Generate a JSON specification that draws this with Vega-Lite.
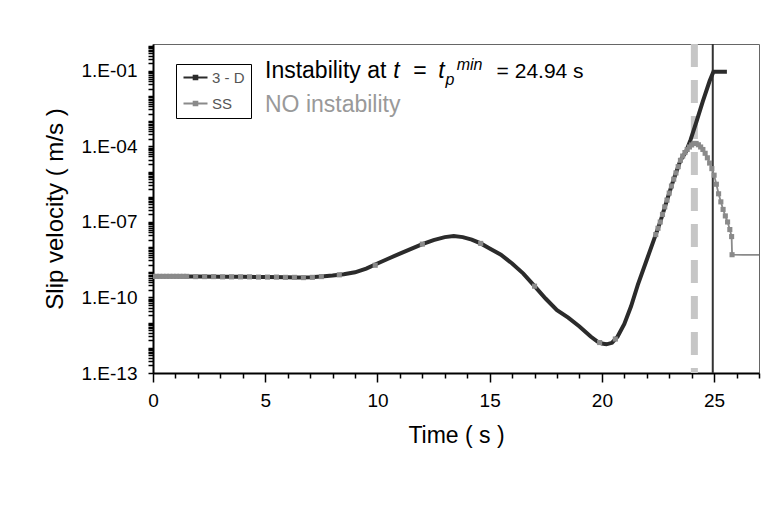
{
  "$schema": "https://vega.github.io/schema/vega-lite/v6.json",
  "autosize": {"type": "none"},
  "padding": {"left": 153, "top": 44, "right": 10, "bottom": 132},
  "width": 606,
  "height": 329,
  "background": "#ffffff",
  "config": {
    "font": "Liberation Sans",
    "view": {"stroke": "#666666", "strokeWidth": 1},
    "axis": {"grid": false, "domainColor": "#000000", "domainWidth": 2, "tickColor": "#000000", "tickWidth": 1.5, "labelColor": "#000000", "titleColor": "#000000", "labelFont": "Liberation Sans", "titleFont": "Liberation Sans", "titleFontWeight": "normal"}
  },
  "data": {"values": [
    {"series": "3 - D", "time": 0, "velocity": 6.92e-10},
    {"series": "3 - D", "time": 0.5, "velocity": 6.92e-10},
    {"series": "3 - D", "time": 1, "velocity": 6.92e-10},
    {"series": "3 - D", "time": 1.5, "velocity": 6.76e-10},
    {"series": "3 - D", "time": 2, "velocity": 6.76e-10},
    {"series": "3 - D", "time": 3, "velocity": 6.61e-10},
    {"series": "3 - D", "time": 4, "velocity": 6.61e-10},
    {"series": "3 - D", "time": 5, "velocity": 6.46e-10},
    {"series": "3 - D", "time": 6, "velocity": 6.31e-10},
    {"series": "3 - D", "time": 6.5, "velocity": 6.17e-10},
    {"series": "3 - D", "time": 7, "velocity": 6.31e-10},
    {"series": "3 - D", "time": 7.5, "velocity": 6.76e-10},
    {"series": "3 - D", "time": 8, "velocity": 7.41e-10},
    {"series": "3 - D", "time": 8.5, "velocity": 8.32e-10},
    {"series": "3 - D", "time": 9, "velocity": 1.0e-9},
    {"series": "3 - D", "time": 9.5, "velocity": 1.41e-9},
    {"series": "3 - D", "time": 10, "velocity": 2.24e-9},
    {"series": "3 - D", "time": 10.5, "velocity": 3.55e-9},
    {"series": "3 - D", "time": 11, "velocity": 5.5e-9},
    {"series": "3 - D", "time": 11.5, "velocity": 8.51e-9},
    {"series": "3 - D", "time": 12, "velocity": 1.32e-8},
    {"series": "3 - D", "time": 12.5, "velocity": 1.91e-8},
    {"series": "3 - D", "time": 13, "velocity": 2.51e-8},
    {"series": "3 - D", "time": 13.4, "velocity": 2.75e-8},
    {"series": "3 - D", "time": 13.8, "velocity": 2.51e-8},
    {"series": "3 - D", "time": 14.2, "velocity": 2.0e-8},
    {"series": "3 - D", "time": 14.6, "velocity": 1.41e-8},
    {"series": "3 - D", "time": 15, "velocity": 8.91e-9},
    {"series": "3 - D", "time": 15.5, "velocity": 5.01e-9},
    {"series": "3 - D", "time": 16, "velocity": 2.24e-9},
    {"series": "3 - D", "time": 16.5, "velocity": 8.91e-10},
    {"series": "3 - D", "time": 17, "velocity": 2.82e-10},
    {"series": "3 - D", "time": 17.5, "velocity": 8.91e-11},
    {"series": "3 - D", "time": 18, "velocity": 3.16e-11},
    {"series": "3 - D", "time": 18.5, "velocity": 1.58e-11},
    {"series": "3 - D", "time": 19, "velocity": 7.08e-12},
    {"series": "3 - D", "time": 19.5, "velocity": 2.82e-12},
    {"series": "3 - D", "time": 19.8, "velocity": 1.78e-12},
    {"series": "3 - D", "time": 20, "velocity": 1.48e-12},
    {"series": "3 - D", "time": 20.2, "velocity": 1.38e-12},
    {"series": "3 - D", "time": 20.45, "velocity": 1.58e-12},
    {"series": "3 - D", "time": 20.7, "velocity": 2.82e-12},
    {"series": "3 - D", "time": 21, "velocity": 8.91e-12},
    {"series": "3 - D", "time": 21.3, "velocity": 4.47e-11},
    {"series": "3 - D", "time": 21.6, "velocity": 3.16e-10},
    {"series": "3 - D", "time": 22, "velocity": 3.16e-9},
    {"series": "3 - D", "time": 22.3, "velocity": 1.78e-8},
    {"series": "3 - D", "time": 22.6, "velocity": 1.0e-7},
    {"series": "3 - D", "time": 22.9, "velocity": 7.41e-7},
    {"series": "3 - D", "time": 23.2, "velocity": 5.01e-6},
    {"series": "3 - D", "time": 23.5, "velocity": 2.82e-5},
    {"series": "3 - D", "time": 23.75, "velocity": 6.31e-5},
    {"series": "3 - D", "time": 23.95, "velocity": 1.82e-4},
    {"series": "3 - D", "time": 24.2, "velocity": 8.91e-4},
    {"series": "3 - D", "time": 24.5, "velocity": 6.31e-3},
    {"series": "3 - D", "time": 24.8, "velocity": 3.98e-2},
    {"series": "3 - D", "time": 24.97, "velocity": 9.33e-2},
    {"series": "3 - D", "time": 25.25, "velocity": 9.33e-2},
    {"series": "3 - D", "time": 25.57, "velocity": 9.33e-2},
    {"series": "SS", "time": 0, "velocity": 6.92e-10},
    {"series": "SS", "time": 0.15, "velocity": 6.92e-10},
    {"series": "SS", "time": 0.3, "velocity": 6.92e-10},
    {"series": "SS", "time": 0.45, "velocity": 6.92e-10},
    {"series": "SS", "time": 0.6, "velocity": 6.92e-10},
    {"series": "SS", "time": 0.75, "velocity": 6.92e-10},
    {"series": "SS", "time": 0.9, "velocity": 6.92e-10},
    {"series": "SS", "time": 1.05, "velocity": 6.92e-10},
    {"series": "SS", "time": 1.2, "velocity": 6.92e-10},
    {"series": "SS", "time": 1.35, "velocity": 6.92e-10},
    {"series": "SS", "time": 1.5, "velocity": 6.92e-10},
    {"series": "SS", "time": 1.9, "velocity": 6.76e-10},
    {"series": "SS", "time": 2.3, "velocity": 6.76e-10},
    {"series": "SS", "time": 2.7, "velocity": 6.76e-10},
    {"series": "SS", "time": 3.1, "velocity": 6.61e-10},
    {"series": "SS", "time": 3.5, "velocity": 6.61e-10},
    {"series": "SS", "time": 3.9, "velocity": 6.61e-10},
    {"series": "SS", "time": 4.3, "velocity": 6.61e-10},
    {"series": "SS", "time": 4.7, "velocity": 6.46e-10},
    {"series": "SS", "time": 5.1, "velocity": 6.46e-10},
    {"series": "SS", "time": 5.5, "velocity": 6.46e-10},
    {"series": "SS", "time": 5.9, "velocity": 6.31e-10},
    {"series": "SS", "time": 6.3, "velocity": 6.31e-10},
    {"series": "SS", "time": 6.7, "velocity": 6.17e-10},
    {"series": "SS", "time": 7.1, "velocity": 6.31e-10},
    {"series": "SS", "time": 7.5, "velocity": 6.76e-10},
    {"series": "SS", "time": 8.3, "velocity": 7.94e-10},
    {"series": "SS", "time": 9.9, "velocity": 1.91e-9},
    {"series": "SS", "time": 12.0, "velocity": 1.32e-8},
    {"series": "SS", "time": 14.6, "velocity": 1.41e-8},
    {"series": "SS", "time": 17.0, "velocity": 2.82e-10},
    {"series": "SS", "time": 19.9, "velocity": 1.62e-12},
    {"series": "SS", "time": 20.6, "velocity": 2.24e-12},
    {"series": "SS", "time": 22.4, "velocity": 3.16e-8},
    {"series": "SS", "time": 22.5, "velocity": 5.62e-8},
    {"series": "SS", "time": 22.6, "velocity": 1.0e-7},
    {"series": "SS", "time": 22.7, "velocity": 2.0e-7},
    {"series": "SS", "time": 22.8, "velocity": 3.98e-7},
    {"series": "SS", "time": 22.9, "velocity": 7.41e-7},
    {"series": "SS", "time": 23.0, "velocity": 1.41e-6},
    {"series": "SS", "time": 23.1, "velocity": 2.69e-6},
    {"series": "SS", "time": 23.2, "velocity": 5.01e-6},
    {"series": "SS", "time": 23.3, "velocity": 8.91e-6},
    {"series": "SS", "time": 23.4, "velocity": 1.58e-5},
    {"series": "SS", "time": 23.5, "velocity": 2.82e-5},
    {"series": "SS", "time": 23.6, "velocity": 4.17e-5},
    {"series": "SS", "time": 23.7, "velocity": 5.75e-5},
    {"series": "SS", "time": 23.8, "velocity": 7.59e-5},
    {"series": "SS", "time": 23.9, "velocity": 9.55e-5},
    {"series": "SS", "time": 24.0, "velocity": 1.15e-4},
    {"series": "SS", "time": 24.1, "velocity": 1.32e-4},
    {"series": "SS", "time": 24.2, "velocity": 1.32e-4},
    {"series": "SS", "time": 24.3, "velocity": 1.17e-4},
    {"series": "SS", "time": 24.4, "velocity": 9.55e-5},
    {"series": "SS", "time": 24.5, "velocity": 7.59e-5},
    {"series": "SS", "time": 24.6, "velocity": 5.37e-5},
    {"series": "SS", "time": 24.7, "velocity": 3.55e-5},
    {"series": "SS", "time": 24.8, "velocity": 2.19e-5},
    {"series": "SS", "time": 24.9, "velocity": 1.32e-5},
    {"series": "SS", "time": 25.0, "velocity": 7.24e-6},
    {"series": "SS", "time": 25.1, "velocity": 3.16e-6},
    {"series": "SS", "time": 25.2, "velocity": 1.32e-6},
    {"series": "SS", "time": 25.3, "velocity": 6.31e-7},
    {"series": "SS", "time": 25.4, "velocity": 3.16e-7},
    {"series": "SS", "time": 25.5, "velocity": 1.74e-7},
    {"series": "SS", "time": 25.6, "velocity": 1.0e-7},
    {"series": "SS", "time": 25.7, "velocity": 5.01e-8},
    {"series": "SS", "time": 25.78, "velocity": 2.63e-8},
    {"series": "SS", "time": 25.8, "velocity": 5.01e-9},
    {"series": "SS", "time": 26.3, "velocity": 4.9e-9},
    {"series": "SS", "time": 27.0, "velocity": 4.9e-9}
  ]},
  "encoding": {
    "x": {"field": "time", "type": "quantitative",
      "scale": {"domain": [0, 27], "nice": false, "zero": false},
      "axis": {
        "title": "Time ( s )", "titleFontSize": 23, "titlePadding": 14,
        "values": [0,1,2,3,4,5,6,7,8,9,10,11,12,13,14,15,16,17,18,19,20,21,22,23,24,25,26,27],
        "labelExpr": "datum.value % 5 === 0 ? datum.label : ''",
        "labelFontSize": 19, "labelPadding": 9, "labelOverlap": false, "labelFlush": false,
        "tickSize": {"condition": {"test": "datum.value % 5 === 0", "value": 9}, "value": 5}
      }
    },
    "y": {"field": "velocity", "type": "quantitative",
      "scale": {"type": "log", "domain": [1e-13, 1.18], "nice": false},
      "axis": {
        "title": "Slip velocity ( m/s )", "titleFontSize": 24, "titlePadding": 14,
        "values": [1e-13,2e-13,3e-13,4e-13,5e-13,6e-13,7e-13,8e-13,9e-13,
          1e-12,2e-12,3e-12,4e-12,5e-12,6e-12,7e-12,8e-12,9e-12,
          1e-11,2e-11,3e-11,4e-11,5e-11,6e-11,7e-11,8e-11,9e-11,
          1e-10,2e-10,3e-10,4e-10,5e-10,6e-10,7e-10,8e-10,9e-10,
          1e-9,2e-9,3e-9,4e-9,5e-9,6e-9,7e-9,8e-9,9e-9,
          1e-8,2e-8,3e-8,4e-8,5e-8,6e-8,7e-8,8e-8,9e-8,
          1e-7,2e-7,3e-7,4e-7,5e-7,6e-7,7e-7,8e-7,9e-7,
          1e-6,2e-6,3e-6,4e-6,5e-6,6e-6,7e-6,8e-6,9e-6,
          1e-5,2e-5,3e-5,4e-5,5e-5,6e-5,7e-5,8e-5,9e-5,
          1e-4,2e-4,3e-4,4e-4,5e-4,6e-4,7e-4,8e-4,9e-4,
          1e-3,2e-3,3e-3,4e-3,5e-3,6e-3,7e-3,8e-3,9e-3,
          1e-2,2e-2,3e-2,4e-2,5e-2,6e-2,7e-2,8e-2,9e-2,
          1e-1,2e-1,3e-1,4e-1,5e-1,6e-1,7e-1,8e-1,9e-1,1],
        "labelExpr": "indexof(['1e-13','1e-10','1e-7','0.0001','0.1'], toString(datum.value)) >= 0 ? '1.E-' + pad(toString(-round(log(datum.value)/LN10)), 2, '0', 'left') : ''",
        "labelFontSize": 19, "labelPadding": 11, "labelOverlap": false, "labelFlush": false,
        "tickSize": 5, "tickWidth": 1.5, "tickColor": "#000000"
      }
    }
  },
  "layer": [
    {
      "data": {"values": [{"time": 24.12}]},
      "mark": {"type": "rule", "color": "#c6c6c6", "strokeWidth": 7, "strokeDash": [23, 13]},
      "encoding": {"x": {"field": "time", "type": "quantitative"}, "y": null}
    },
    {
      "data": {"values": [{"time": 24.94}]},
      "mark": {"type": "rule", "color": "#333333", "strokeWidth": 2},
      "encoding": {"x": {"field": "time", "type": "quantitative"}, "y": null}
    },
    {
      "transform": [{"filter": "datum.series === 'SS' && datum.time >= 22.4"}],
      "mark": {"type": "line", "strokeWidth": 1.8, "clip": true},
      "encoding": {
        "color": {"field": "series", "type": "nominal",
          "scale": {"domain": ["3 - D", "SS"], "range": ["#2b2b2b", "#8a8a8a"]},
          "legend": {"orient": "none", "legendX": 23, "legendY": 20, "title": null,
            "strokeColor": "#000000", "fillColor": "#ffffff", "padding": 6,
            "symbolType": "M-1,0H3M0.7,-0.3H1.3V0.3H0.7Z", "symbolSize": 144, "symbolStrokeWidth": 2,
            "labelFontSize": 15, "labelColor": "#555555", "labelOffset": 15, "rowPadding": 10, "labelFont": "Liberation Sans"}
        }
      }
    },
    {
      "transform": [{"filter": "datum.series === '3 - D'"}],
      "mark": {"type": "line", "strokeWidth": 4, "clip": true},
      "encoding": {"color": {"field": "series", "type": "nominal"}}
    },
    {
      "transform": [{"filter": "datum.series === 'SS' && datum.time < 26"}],
      "mark": {"type": "point", "shape": "square", "filled": true, "size": 26, "opacity": 1, "clip": true},
      "encoding": {"color": {"field": "series", "type": "nominal"}}
    },
    {
      "data": {"values": [{"time": 4.99, "velocity": 0.0513, "label": "Instability at"}, {"time": 11.6, "velocity": 0.0513, "label": "="}]},
      "mark": {"type": "text", "align": "left", "baseline": "alphabetic", "fontSize": 23, "color": "#000000", "font": "Liberation Sans"},
      "encoding": {"text": {"field": "label"}}
    },
    {
      "data": {"values": [{"time": 10.7, "velocity": 0.0513, "label": "t"}, {"time": 12.71, "velocity": 0.0513, "label": "t"}]},
      "mark": {"type": "text", "align": "left", "baseline": "alphabetic", "fontSize": 23, "fontStyle": "italic", "color": "#000000", "font": "Liberation Sans"},
      "encoding": {"text": {"field": "label"}}
    },
    {
      "data": {"values": [{"time": 13.03, "velocity": 0.0278, "label": "p"}, {"time": 13.53, "velocity": 0.1096, "label": "min"}]},
      "mark": {"type": "text", "align": "left", "baseline": "alphabetic", "fontSize": 16, "fontStyle": "italic", "color": "#000000", "font": "Liberation Sans"},
      "encoding": {"text": {"field": "label"}}
    },
    {
      "data": {"values": [{"time": 15.31, "velocity": 0.0513, "label": "= 24.94 s"}]},
      "mark": {"type": "text", "align": "left", "baseline": "alphabetic", "fontSize": 21, "color": "#000000", "font": "Liberation Sans"},
      "encoding": {"text": {"field": "label"}}
    },
    {
      "data": {"values": [{"time": 4.99, "velocity": 0.00242, "label": "NO instability"}]},
      "mark": {"type": "text", "align": "left", "baseline": "alphabetic", "fontSize": 23, "color": "#999999", "font": "Liberation Sans"},
      "encoding": {"text": {"field": "label"}}
    }
  ]
}
